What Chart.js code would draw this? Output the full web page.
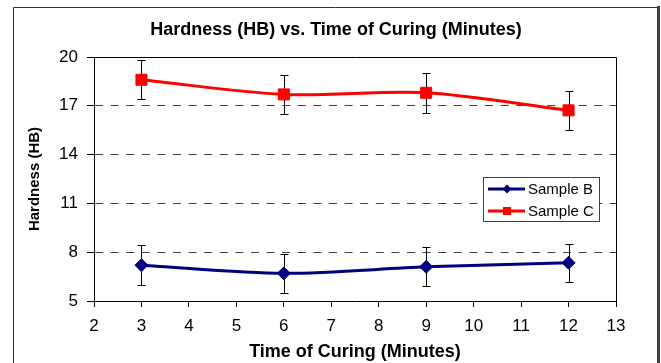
<!DOCTYPE html>
<html>
<head>
<meta charset="utf-8">
<script src="https://cdn.jsdelivr.net/npm/chart.js@4.4.1/dist/chart.umd.min.js"></script>
<style>
  html, body { margin: 0; padding: 0; background: #ffffff; }
  #wrap { width: 661px; height: 363px; }
</style>
</head>
<body>
<div id="wrap"><canvas id="c" width="661" height="363"></canvas></div>
<script>
// ---- data ----
const chartTitle = 'Hardness (HB) vs. Time of Curing (Minutes)';
const xAxisTitle = 'Time of Curing (Minutes)';
const yAxisTitle = 'Hardness (HB)';
const seriesNames = ['Sample B', 'Sample C'];
const curingTimes = [3, 6, 9, 12];
const sampleB = [7.2, 6.7, 7.1, 7.35];
const sampleBErr = [1.22, 1.2, 1.2, 1.18];
const sampleC = [18.6, 17.7, 17.8, 16.72];
const sampleCErr = [1.2, 1.2, 1.22, 1.22];
const xTickValues = [2, 3, 4, 5, 6, 7, 8, 9, 10, 11, 12, 13];
const yTickValues = [5, 8, 11, 14, 17, 20];

const FONT = "'Liberation Sans', Arial, sans-serif";
Chart.defaults.font.family = FONT;
Chart.defaults.color = '#000';

const errorSets = [sampleBErr, sampleCErr];

const framePlugin = {
  id: 'frame',
  beforeDraw(chart) {
    const ctx = chart.ctx;
    ctx.save();
    ctx.fillStyle = '#fff';
    ctx.fillRect(0, 0, chart.width, chart.height);
    ctx.strokeStyle = '#303030';
    ctx.lineWidth = 1;
    ctx.beginPath();
    ctx.moveTo(13.5, chart.height + 5);
    ctx.lineTo(13.5, 7.5);
    ctx.lineTo(657.5, 7.5);
    ctx.stroke();
    ctx.lineWidth = 3;
    ctx.strokeStyle = '#404040';
    ctx.beginPath();
    ctx.moveTo(658.5, 6);
    ctx.lineTo(658.5, chart.height + 5);
    ctx.stroke();
    ctx.restore();
  },
  beforeDatasetsDraw(chart) {
    const {ctx, chartArea: a, scales} = chart;
    ctx.save();
    // plot area top / right border
    ctx.strokeStyle = '#000';
    ctx.lineWidth = 1;
    ctx.beginPath();
    ctx.moveTo(Math.round(a.left) + 0.5, Math.round(a.top) + 0.5);
    ctx.lineTo(Math.round(a.right) + 0.5, Math.round(a.top) + 0.5);
    ctx.lineTo(Math.round(a.right) + 0.5, Math.round(a.bottom) + 0.5);
    ctx.stroke();
    // error bars (behind the markers)
    ctx.strokeStyle = '#000';
    ctx.lineWidth = 1;
    chart.data.datasets.forEach((ds, di) => {
      const errs = errorSets[di];
      ds.data.forEach((p, i) => {
        const x = Math.round(scales.x.getPixelForValue(p.x)) + 0.5;
        const yTop = Math.round(scales.y.getPixelForValue(p.y + errs[i])) + 0.5;
        const yBot = Math.round(scales.y.getPixelForValue(p.y - errs[i])) + 0.5;
        ctx.beginPath();
        ctx.moveTo(x, yTop); ctx.lineTo(x, yBot);
        ctx.moveTo(x - 4, yTop); ctx.lineTo(x + 4, yTop);
        ctx.moveTo(x - 4, yBot); ctx.lineTo(x + 4, yBot);
        ctx.stroke();
      });
    });
    ctx.restore();
  },
  afterDraw(chart) {
    // legend box inside plot area
    const ctx = chart.ctx;
    const bx = 483.5, by = 177.5, bw = 116, bh = 44;
    ctx.save();
    ctx.fillStyle = '#fff';
    ctx.fillRect(bx, by, bw, bh);
    ctx.strokeStyle = '#404040';
    ctx.lineWidth = 1;
    ctx.strokeRect(bx, by, bw, bh);
    const rows = [189, 211];
    chart.data.datasets.forEach((ds, i) => {
      const y = rows[i];
      ctx.strokeStyle = ds.borderColor;
      ctx.lineWidth = 3;
      ctx.beginPath();
      ctx.moveTo(488, y); ctx.lineTo(525, y);
      ctx.stroke();
      ctx.fillStyle = ds.backgroundColor;
      ctx.beginPath();
      if (ds.pointStyle === 'rectRot') {
        ctx.moveTo(507, y - 4.5); ctx.lineTo(511.5, y); ctx.lineTo(507, y + 4.5); ctx.lineTo(502.5, y);
        ctx.closePath();
      } else {
        ctx.rect(503, y - 4, 8, 8);
      }
      ctx.fill();
      ctx.fillStyle = '#000';
      ctx.font = '15px ' + FONT;
      ctx.textBaseline = 'middle';
      ctx.textAlign = 'left';
      ctx.fillText(ds.label, 528, y + 0.5);
    });
    ctx.restore();
  }
};

new Chart(document.getElementById('c'), {
  type: 'line',
  data: {
    datasets: [
      {
        label: seriesNames[0],
        data: curingTimes.map((t, i) => ({x: t, y: sampleB[i]})),
        borderColor: '#000080',
        backgroundColor: '#000080',
        borderWidth: 3,
        tension: 0.3,
        pointStyle: 'rectRot',
        pointRadius: 6.5,
        pointBorderWidth: 1,
        pointBorderColor: '#000080',
        pointBackgroundColor: '#000080',
        yAxisID: 'y'
      },
      {
        label: seriesNames[1],
        data: curingTimes.map((t, i) => ({x: t, y: sampleC[i]})),
        borderColor: '#ff0000',
        backgroundColor: '#ff0000',
        borderWidth: 3,
        tension: 0.3,
        pointStyle: 'rect',
        pointRadius: 7.8,
        pointBorderWidth: 1,
        pointBorderColor: '#ff0000',
        pointBackgroundColor: '#ff0000',
        yAxisID: 'y'
      }
    ]
  },
  options: {
    responsive: false,
    animation: false,
    devicePixelRatio: 1,
    layout: { padding: { left: 14, right: 3, top: 7, bottom: 0 } },
    plugins: {
      legend: { display: false },
      tooltip: { enabled: false },
      title: {
        display: true,
        text: chartTitle,
        font: { size: 18, weight: 'bold', family: FONT },
        color: '#000',
        padding: { top: 12, bottom: 16.4 }
      }
    },
    scales: {
      x: {
        type: 'linear',
        min: 2, max: 13,
        afterBuildTicks(s) { s.ticks = xTickValues.map(v => ({value: v})); },
        afterFit(s) { s.height = 62; },
        ticks: { font: { size: 17, family: FONT }, color: '#000', padding: 9, maxRotation: 0, autoSkip: false },
        grid: { drawOnChartArea: false, drawTicks: true, tickLength: 6, tickColor: '#000', tickBorderDash: [] },
        border: { display: true, color: '#000', width: 1 },
        title: { display: true, text: xAxisTitle, font: { size: 18, weight: 'bold', family: FONT }, color: '#000', padding: { top: 0, bottom: 0 } }
      },
      y: {
        type: 'linear',
        position: 'left',
        min: 5, max: 20,
        afterBuildTicks(s) { s.ticks = yTickValues.map(v => ({value: v})); },
        afterFit(s) { s.width = 80; },
        ticks: { font: { size: 17, family: FONT }, color: '#000', padding: 9 },
        grid: {
          drawOnChartArea: true,
          color: (c) => (c.tick && (c.tick.value === 5 || c.tick.value === 20)) ? 'rgba(0,0,0,0)' : '#404040',
          lineWidth: 1,
          tickLength: 7,
          tickColor: '#000',
          tickBorderDash: []
        },
        border: { display: true, color: '#000', width: 1, dash: [8, 7.6] },
        title: { display: true, text: yAxisTitle, font: { size: 15, weight: 'bold', family: FONT }, color: '#000', padding: { top: 12, bottom: 0 } }
      },
      yR: {
        type: 'linear',
        position: 'right',
        display: true,
        min: 5, max: 20,
        ticks: { display: false },
        grid: { display: false, drawOnChartArea: false, drawTicks: false },
        border: { display: false },
        afterFit(s) { s.width = 42; }
      }
    }
  },
  plugins: [framePlugin]
});
</script>
</body>
</html>
